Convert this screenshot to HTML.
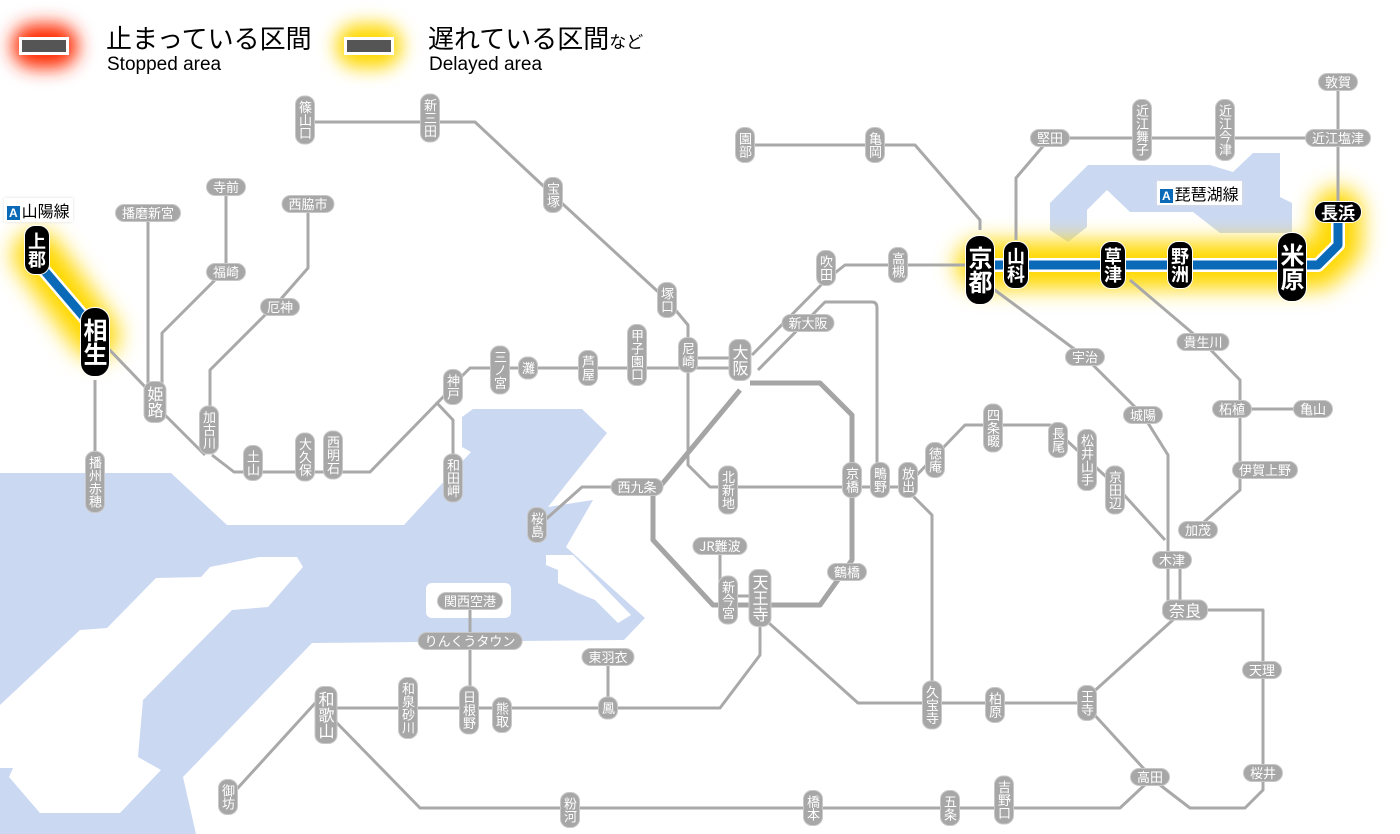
<!DOCTYPE html>
<html><head><meta charset="utf-8">
<style>
body{margin:0;width:1400px;height:834px;background:#fff;position:relative;overflow:hidden;font-family:"Liberation Sans","Noto Sans CJK JP",sans-serif}
svg{position:absolute;left:0;top:0}
.s{position:absolute;transform:translate(-50%,-50%);background:#a7a7a7;color:#fff;font-size:13px;line-height:14px;border-radius:9px;white-space:nowrap;font-family:"Noto Sans CJK JP",sans-serif;border:1px solid #c8c8c8}
.v{writing-mode:vertical-rl;text-orientation:upright;padding:4px 2px;}
.h{padding:1px 6px}
.b{background:#000;border:1px solid #fff;font-weight:bold}
.big{font-size:16px;line-height:17px}
.lg{position:absolute;font-family:"Liberation Sans","Noto Sans CJK JP",sans-serif;color:#000}
.tag{position:absolute;background:#fff;font-size:16px;padding:0 3px;font-family:"Noto Sans CJK JP",sans-serif;box-shadow:0 0 3px #ddd}
.tag i{font-style:normal;background:#0a6ab8;color:#fff;font-size:12px;padding:0 2px;margin-right:2px;font-family:"Liberation Sans",sans-serif;font-weight:bold}
</style></head><body>
<svg width="1400" height="834" viewBox="0 0 1400 834">
<defs>
<filter id="bl" filterUnits="userSpaceOnUse" x="0" y="0" width="1400" height="834"><feGaussianBlur stdDeviation="11"/></filter>
<filter id="bl2" filterUnits="userSpaceOnUse" x="0" y="0" width="1400" height="834"><feGaussianBlur stdDeviation="9"/></filter>
</defs>
<polygon fill="#cbd8f2" points="0,473 171,473 227,525 404,525 471,452 462,447 462,417 473,409 582,409 607,433 548,507 593,500 566,547 645,618 624,640 312,643 183,777 196,834 0,834"/>
<polygon fill="#fff" points="0,705 80,630 107,628 156,578 201,577 210,567 259,557 297,557 303,567 268,607 232,610 143,700 138,757 161,770 120,813 40,813 9,777 13,768 0,768"/>
<rect x="426" y="583" width="85" height="35" rx="6" fill="#fff"/>
<polygon fill="#fff" points="546,555 573,555 631,615 618,623 595,600 578,593 558,583 558,570 546,565"/>
<polygon fill="#cbd8f2" points="1050,203 1088,165 1210,165 1233,172 1253,153 1280,153 1280,197 1292,203 1292,233 1220,233 1193,212 1130,212 1107,190 1087,210 1087,227 1068,242 1050,230"/>
<rect x="12" y="24" width="66" height="44" rx="22" fill="#ff2a00" filter="url(#bl2)"/>
<rect x="336" y="24" width="66" height="44" rx="22" fill="#ffd800" filter="url(#bl2)"/>
<rect x="19" y="37" width="50" height="18" fill="#fff"/><rect x="22" y="40" width="44" height="12" fill="#555"/>
<rect x="344" y="37" width="50" height="18" fill="#fff"/><rect x="347" y="40" width="44" height="12" fill="#555"/>
<path d="M37,255 L95,335" stroke="#ffd800" stroke-width="48" stroke-linecap="round" fill="none" filter="url(#bl)"/>
<path d="M980,265 L1318,265 L1338,245 L1338,212" stroke="#ffd800" stroke-width="48" stroke-linecap="round" stroke-linejoin="round" fill="none" filter="url(#bl)"/>
<g fill="none" stroke="#a9a9a9" stroke-width="3" stroke-linejoin="round">
<path d="M95,380 V460"/>
<path d="M105,345 L150,392"/>
<path d="M148,220 V385"/>
<path d="M226,192 V272 M215,280 L162,333 V385"/>
<path d="M160,410 L205,455"/>
<path d="M308,210 V268 L280,300 L210,370 V420"/>
<path d="M212,455 L234,472 H370 L445,395"/>
<path d="M436,402 L453,420 V470"/>
<path d="M458,380 L470,368 H740"/>
<path d="M688,358 H740"/>
<path d="M305,122 H475 L553,195 L667,300 L688,325 V465 L710,487 H908"/>
<path d="M637,487 H582 L545,520"/>
<path d="M752,355 L826,280 L845,265 H980"/>
<path d="M758,370 L825,302 H872 Q877,302 877,308 V480"/>
<path d="M912,480 L965,425 H1050 L1115,485 L1165,540"/>
<path d="M912,495 L932,515 V703"/>
<path d="M760,615 L858,703 H1087"/>
<path d="M760,625 V655 L720,708 H326"/>
<path d="M608,657 V708 M470,601 V710"/>
<path d="M318,700 L236,790"/>
<path d="M336,722 L420,808 H1120 L1150,780"/>
<path d="M1090,710 L1145,770"/>
<path d="M1160,785 L1190,808 H1245 L1263,790 V610 L1185,610"/>
<path d="M1090,695 L1175,618"/>
<path d="M1168,615 V455 L1143,415 L1085,357 L988,285"/>
<path d="M1180,615 V560"/>
<path d="M1195,530 L1240,490 V380 L1203,342 L1130,280"/>
<path d="M1232,409 H1313"/>
<path d="M980,230 V220 L915,145 H745"/>
<path d="M1016,240 V178 L1050,138 H1338 M1338,82 V212"/>
<path d="M720,546 V585 L728,600"/>
<path d="M728,596 H760"/>
</g>
<g fill="none" stroke="#a5a5a5" stroke-width="5" stroke-linejoin="round">
<path d="M750,383 H820 L852,415 V560 L820,605 H713 L653,540 V495 L740,390"/>
</g>
<path d="M37,262 L95,330" stroke="#fff" stroke-width="14" fill="none"/>
<path d="M37,262 L95,330" stroke="#0a6ab8" stroke-width="9" fill="none"/>
<path d="M980,265 H1318 L1338,245 V212" stroke="#fff" stroke-width="14" fill="none" stroke-linejoin="round"/>
<path d="M980,265 H1318 L1338,245 V212" stroke="#0a6ab8" stroke-width="9" fill="none" stroke-linejoin="round"/>
</svg>

<div class="lg" style="left:106px;top:24px;font-size:26px;line-height:30px">止まっている区間</div>
<div class="lg" style="left:107px;top:54px;font-size:19px">Stopped area</div>
<div class="lg" style="left:428px;top:24px;font-size:26px;line-height:30px">遅れている区間<span style="font-size:17px">など</span></div>
<div class="lg" style="left:429px;top:54px;font-size:19px">Delayed area</div>

<div class="tag" style="left:4px;top:198px"><i>A</i>山陽線</div>
<div class="tag" style="left:1157px;top:181px"><i>A</i>琵琶湖線</div>

<div class="s v" style="left:305px;top:120px">篠山口</div>
<div class="s v" style="left:430px;top:118px">新三田</div>
<div class="s v" style="left:553px;top:195px">宝塚</div>
<div class="s v" style="left:667px;top:300px">塚口</div>
<div class="s v" style="left:637px;top:355px">甲子園口</div>
<div class="s v" style="left:588px;top:368px">芦屋</div>
<div class="s v" style="left:528px;top:368px">灘</div>
<div class="s v" style="left:500px;top:370px">三ノ宮</div>
<div class="s v" style="left:453px;top:387px">神戸</div>
<div class="s v big" style="left:155px;top:402px">姫路</div>
<div class="s v" style="left:209px;top:430px">加古川</div>
<div class="s v" style="left:253px;top:463px">土山</div>
<div class="s v" style="left:305px;top:457px">大久保</div>
<div class="s v" style="left:333px;top:455px">西明石</div>
<div class="s v" style="left:453px;top:478px">和田岬</div>
<div class="s v" style="left:95px;top:482px">播州赤穂</div>
<div class="s v" style="left:688px;top:355px">尼崎</div>
<div class="s v big" style="left:740px;top:360px">大阪</div>
<div class="s v" style="left:728px;top:490px">北新地</div>
<div class="s v" style="left:852px;top:480px">京橋</div>
<div class="s v" style="left:880px;top:480px">鴫野</div>
<div class="s v" style="left:908px;top:480px">放出</div>
<div class="s v" style="left:935px;top:460px">徳庵</div>
<div class="s v" style="left:993px;top:428px">四条畷</div>
<div class="s v" style="left:1058px;top:440px">長尾</div>
<div class="s v" style="left:1087px;top:460px">松井山手</div>
<div class="s v" style="left:1115px;top:490px">京田辺</div>
<div class="s v" style="left:537px;top:525px">桜島</div>
<div class="s v" style="left:728px;top:600px">新今宮</div>
<div class="s v big" style="left:760px;top:598px">天王寺</div>
<div class="s v" style="left:932px;top:705px">久宝寺</div>
<div class="s v" style="left:995px;top:705px">柏原</div>
<div class="s v" style="left:1087px;top:703px">王寺</div>
<div class="s v big" style="left:326px;top:715px">和歌山</div>
<div class="s v" style="left:408px;top:708px">和泉砂川</div>
<div class="s v" style="left:469px;top:710px">日根野</div>
<div class="s v" style="left:502px;top:715px">熊取</div>
<div class="s v" style="left:608px;top:708px">鳳</div>
<div class="s v" style="left:228px;top:797px">御坊</div>
<div class="s v" style="left:570px;top:810px">粉河</div>
<div class="s v" style="left:813px;top:808px">橋本</div>
<div class="s v" style="left:950px;top:808px">五条</div>
<div class="s v" style="left:1004px;top:800px">吉野口</div>
<div class="s v" style="left:745px;top:145px">園部</div>
<div class="s v" style="left:875px;top:145px">亀岡</div>
<div class="s v" style="left:826px;top:268px">吹田</div>
<div class="s v" style="left:898px;top:265px">高槻</div>
<div class="s v" style="left:1142px;top:130px">近江舞子</div>
<div class="s v" style="left:1225px;top:130px">近江今津</div>

<div class="s h" style="left:226px;top:187px">寺前</div>
<div class="s h" style="left:148px;top:213px">播磨新宮</div>
<div class="s h" style="left:308px;top:204px">西脇市</div>
<div class="s h" style="left:226px;top:272px">福崎</div>
<div class="s h" style="left:280px;top:307px">厄神</div>
<div class="s h" style="left:808px;top:323px">新大阪</div>
<div class="s h" style="left:637px;top:487px">西九条</div>
<div class="s h" style="left:720px;top:546px">JR難波</div>
<div class="s h" style="left:847px;top:572px">鶴橋</div>
<div class="s h" style="left:470px;top:601px">関西空港</div>
<div class="s h" style="left:470px;top:641px">りんくうタウン</div>
<div class="s h" style="left:608px;top:657px">東羽衣</div>
<div class="s h" style="left:1050px;top:138px">堅田</div>
<div class="s h" style="left:1338px;top:138px">近江塩津</div>
<div class="s h" style="left:1338px;top:82px">敦賀</div>
<div class="s h" style="left:1085px;top:357px">宇治</div>
<div class="s h" style="left:1143px;top:415px">城陽</div>
<div class="s h" style="left:1203px;top:342px">貴生川</div>
<div class="s h" style="left:1232px;top:409px">柘植</div>
<div class="s h" style="left:1313px;top:409px">亀山</div>
<div class="s h" style="left:1265px;top:470px">伊賀上野</div>
<div class="s h" style="left:1198px;top:530px">加茂</div>
<div class="s h" style="left:1172px;top:560px">木津</div>
<div class="s h big" style="left:1185px;top:610px">奈良</div>
<div class="s h" style="left:1262px;top:670px">天理</div>
<div class="s h" style="left:1150px;top:777px">高田</div>
<div class="s h" style="left:1263px;top:773px">桜井</div>

<div class="s v b" style="left:37px;top:250px;font-size:18px;line-height:20px;padding:6px 2px;border-radius:11px">上郡</div>
<div class="s v b" style="left:95px;top:342px;font-size:24px;line-height:26px;padding:10px 1px;border-radius:14px">相生</div>
<div class="s v b" style="left:980px;top:270px;font-size:24px;line-height:26px;padding:10px 1px;border-radius:14px">京都</div>
<div class="s v b" style="left:1016px;top:265px;font-size:18px;line-height:20px;padding:5px 2px;border-radius:11px">山科</div>
<div class="s v b" style="left:1113px;top:265px;font-size:18px;line-height:20px;padding:5px 2px;border-radius:11px">草津</div>
<div class="s v b" style="left:1180px;top:265px;font-size:18px;line-height:20px;padding:5px 2px;border-radius:11px">野洲</div>
<div class="s v b" style="left:1292px;top:267px;font-size:24px;line-height:26px;padding:10px 1px;border-radius:14px">米原</div>
<div class="s h b" style="left:1338px;top:212px;font-size:17px;line-height:20px;padding:0 6px;border-radius:11px">長浜</div>
</body></html>
